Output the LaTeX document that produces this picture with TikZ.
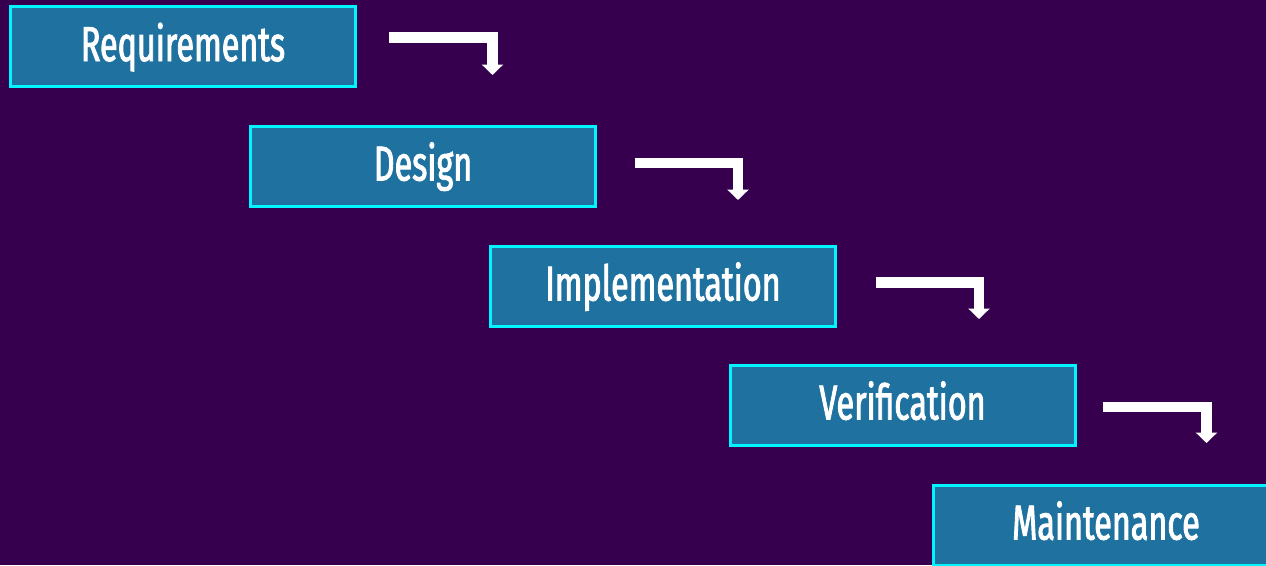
\documentclass[tikz,border=0pt]{standalone}
\usepackage{fontspec}
\newfontfamily\stagefont{Fira Sans}[FakeStretch=0.66,FakeBold=1.8]
\usepackage{tikz}
\usetikzlibrary{
  arrows.meta,
  calc
}
\definecolor{bgpurple}{RGB}{54,0,78}
\definecolor{stageblue}{RGB}{31,114,160}
\definecolor{stageedge}{RGB}{0,245,255}

\begin{document}
\begin{tikzpicture}[x=1pt,y=1pt,
  stage/.style={draw=stageedge,fill=stageblue,line width=3pt,
    minimum width=345pt,minimum height=80pt,inner sep=0pt,
    text height=34pt,text depth=5pt,
    text=white,font=\stagefont\fontsize{49}{55}\selectfont},
  flow/.style={draw=white,line width=10.5pt,
    -{Triangle[length=10.5pt,width=21pt]}}]
\useasboundingbox (0,0) rectangle (1266,-565);
\clip (0,0) rectangle (1266,-565);
\fill[bgpurple] (0,0) rectangle (1266,-565);

% the five stages
\node [stage] (req) at (183,-46.5) {Requirements};
\node [stage] (des) at (423,-166) {Design};
\node [stage] (imp) at (663,-286) {Implementation};
\node [stage] (ver) at (902.5,-405) {Verification};
\node [stage] (mai) at (1106,-525) {Maintenance};

% arrow tips
\coordinate (t1) at (492.5,-75);
\coordinate (t2) at (738,-200);
\coordinate (t3) at (979,-319);
\coordinate (t4) at (1206.5,-443);

\draw [flow] ([xshift=32pt,yshift=9pt]req.east) -| (t1);
\draw [flow] ([xshift=38pt,yshift=3pt]des.east) -| (t2);
\draw [flow] ([xshift=39pt,yshift=3.5pt]imp.east) -| (t3);
\draw [flow] ([xshift=26pt,yshift=-2pt]ver.east) -| (t4);
\end{tikzpicture}
\end{document}
